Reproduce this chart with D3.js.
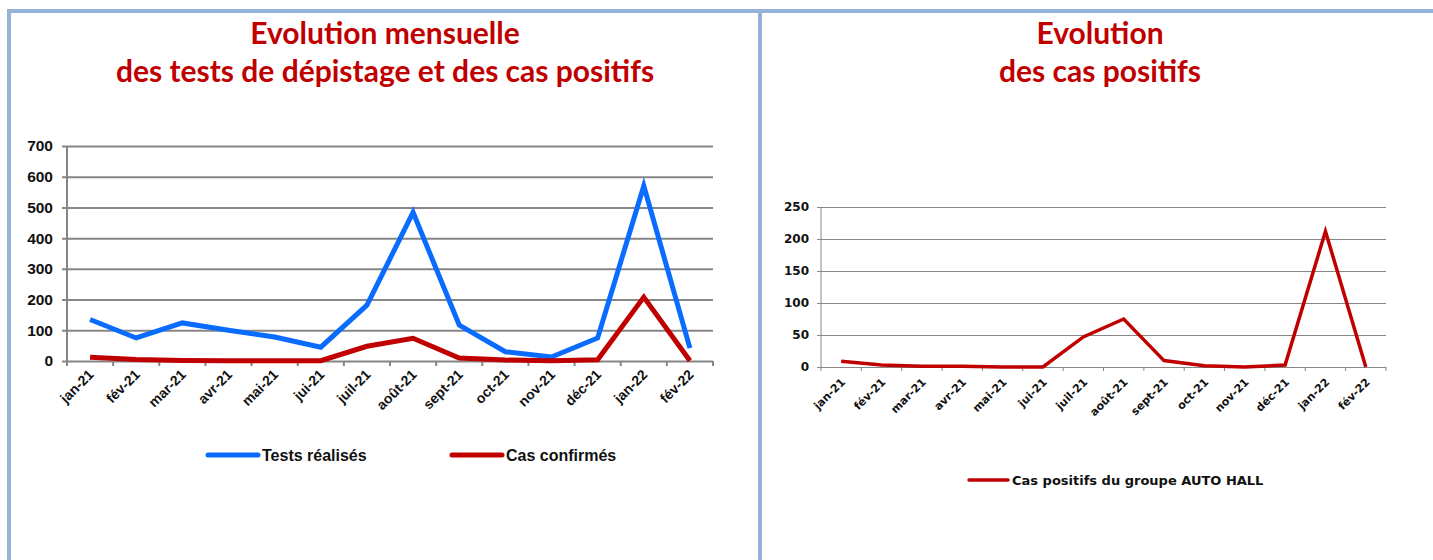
<!DOCTYPE html>
<html>
<head>
<meta charset="utf-8">
<script src="https://cdn.jsdelivr.net/npm/d3@7"></script>
<style>
  body { margin: 0; background: #fff; }
  svg { display: block; }
</style>
</head>
<body>
<svg id="chart"></svg>
<script>
const mois = ['jan-21', 'fév-21', 'mar-21', 'avr-21', 'mai-21', 'jui-21', 'juil-21',
              'août-21', 'sept-21', 'oct-21', 'nov-21', 'déc-21', 'jan-22', 'fév-22']
const testsRealises = [135, 75, 124, 100, 78, 45, 182, 484, 117, 30, 13, 75, 570, 42]
const casConfirmes = [12, 5, 2, 1, 1, 1, 48, 74, 10, 3, 1, 4, 208, 1]
const casPositifs = [9, 3, 1, 1, 0, 0, 47, 75, 10, 2, 0, 3, 212, 0]
const ticksGauche = [0, 100, 200, 300, 400, 500, 600, 700]
const ticksDroite = [0, 50, 100, 150, 200, 250]

const width = 1433
const height = 560
const rouge = '#c00000'
const bleu = '#0a6cff'
const cadre = '#95b3d7'
const grille = '#868686'

const svg = d3.select('#chart')
  .attr('width', width)
  .attr('height', height)

// cadre bleu
svg.append('rect').attr('x', 7).attr('y', 9).attr('width', width - 7).attr('height', 4).attr('fill', cadre)
svg.append('rect').attr('x', 7).attr('y', 9).attr('width', 4).attr('height', height - 9).attr('fill', cadre)
svg.append('rect').attr('x', 758).attr('y', 9).attr('width', 4).attr('height', height - 9).attr('fill', cadre)

function titre (lignes, cx, y0, dy) {
  svg.append('g').selectAll('text')
    .data(lignes)
    .enter()
    .append('text')
      .attr('x', cx)
      .attr('y', (d, i) => y0 + i * dy)
      .attr('text-anchor', 'middle')
      .style('font-family', 'Lato, "Open Sans", sans-serif')
      .style('font-weight', 'bold')
      .style('font-size', '30px')
      .style('fill', rouge)
      .text(d => d)
}

function graphique (opts) {
  const g = svg.append('g')
  const x = d3.scaleBand().domain(mois).range([opts.left, opts.right])
  const y = d3.scaleLinear().domain([0, opts.max]).range([opts.bottom, opts.top])

  // grille + axe y
  const yAxis = d3.axisLeft(y)
    .tickValues(opts.ticks)
    .tickSize(-(opts.right - opts.left))
    .tickPadding(opts.pad)
    .tickSizeOuter(0)
  const ga = g.append('g')
    .attr('transform', `translate(${opts.left}, 0)`)
    .call(yAxis)
  ga.select('.domain').remove()
  ga.selectAll('.tick line')
    .attr('x1', -opts.tick)
    .attr('stroke', grille)
    .attr('stroke-width', opts.grid)
  ga.selectAll('.tick text')
    .style('font-family', opts.font)
    .style('font-weight', 'bold')
    .style('font-size', opts.fy)
    .style('fill', '#111')

  g.append('line')
    .attr('x1', opts.left).attr('x2', opts.left)
    .attr('y1', opts.top).attr('y2', opts.bottom)
    .attr('stroke', grille).attr('stroke-width', opts.grid)

  // axe x
  const xAxis = d3.axisBottom(x).tickSize(0).tickPadding(0)
  const gx = g.append('g')
    .attr('transform', `translate(0, ${opts.bottom})`)
    .call(xAxis)
  gx.select('.domain').remove()
  gx.selectAll('.tick text')
    .attr('transform', `translate(${opts.lx[0]}, ${opts.lx[1]}) rotate(-45)`)
    .attr('dy', '0.35em')
    .attr('x', 0)
    .attr('y', 0)
    .style('text-anchor', 'end')
    .style('font-family', opts.font)
    .style('font-weight', 'bold')
    .style('font-size', opts.fx)
    .style('fill', '#111')

  g.append('g').selectAll('line')
    .data(mois.concat(['fin']))
    .enter()
    .append('line')
      .attr('x1', (d, i) => opts.left + i * x.step())
      .attr('x2', (d, i) => opts.left + i * x.step())
      .attr('y1', opts.bottom)
      .attr('y2', opts.bottom + opts.tick)
      .attr('stroke', grille)
      .attr('stroke-width', opts.grid)

  const line = d3.line()
    .x((d, i) => x(mois[i]) + x.bandwidth() / 2)
    .y(d => y(d))

  opts.series.forEach(s => {
    g.append('path')
      .datum(s.values)
      .attr('d', line)
      .attr('fill', 'none')
      .attr('stroke', s.color)
      .attr('stroke-width', opts.lw)
      .attr('stroke-linejoin', 'miter')
  })

  // légende
  opts.series.forEach(s => {
    g.append('line')
      .attr('x1', s.lx).attr('x2', s.lx + opts.legW)
      .attr('y1', opts.legY).attr('y2', opts.legY)
      .attr('stroke', s.color)
      .attr('stroke-width', opts.lw)
      .attr('stroke-linecap', 'round')
    g.append('text')
      .attr('x', s.lx + opts.legW + 4)
      .attr('y', opts.legY)
      .attr('dy', '0.35em')
      .style('font-family', opts.font)
      .style('font-weight', 'bold')
      .style('font-size', opts.fl)
      .style('fill', '#111')
      .text(s.name)
  })
}

titre(['Evolution mensuelle', 'des tests de dépistage et des cas positifs'], 385, 44, 38)
titre(['Evolution', 'des cas positifs'], 1100, 44, 38)

graphique({
  left: 67, right: 713, top: 146, bottom: 361, max: 700,
  ticks: ticksGauche, pad: 14, tick: 5, grid: 2,
  font: 'Arial, "Liberation Sans", sans-serif',
  fy: '15.5px', fx: '14px', lx: [1, 11], lw: 5,
  legY: 455, legW: 50, fl: '16px',
  series: [
    { name: 'Tests réalisés', values: testsRealises, color: bleu, lx: 208 },
    { name: 'Cas confirmés', values: casConfirmes, color: rouge, lx: 452 }
  ]
})

graphique({
  left: 821, right: 1386, top: 207, bottom: 367, max: 250,
  ticks: ticksDroite, pad: 12, tick: 4, grid: 1,
  font: '"DejaVu Sans", Verdana, sans-serif',
  fy: '12px', fx: '11px', lx: [2, 13], lw: 3.5,
  legY: 480, legW: 39, fl: '13px',
  series: [
    { name: 'Cas positifs du groupe AUTO HALL', values: casPositifs, color: rouge, lx: 969 }
  ]
})
</script>
</body>
</html>
